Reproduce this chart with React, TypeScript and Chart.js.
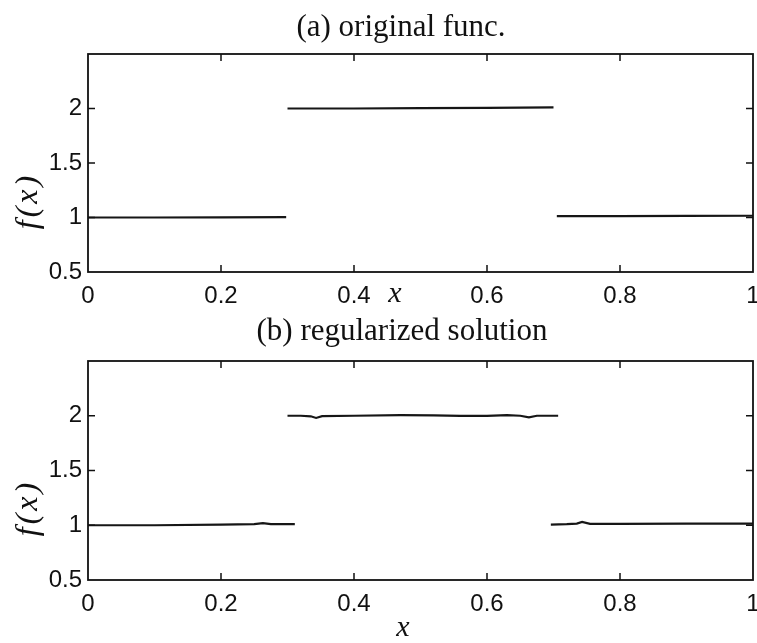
import React, { useEffect, useRef } from 'react';
import { Chart, registerables } from 'chart.js';

Chart.register(...registerables);

// ---- Data ----
const xTickValues = [0, 0.2, 0.4, 0.6, 0.8, 1];
const yTickValues = [0.5, 1, 1.5, 2];
const xMin = 0;
const xMax = 1;
const yMin = 0.5;
const yMax = 2.5;

// (a) original function: three pieces
const origSeg1X = [0, 0.1, 0.2, 0.298];
const origSeg1Y = [1.0, 1.0, 1.002, 1.004];
const origSeg2X = [0.3, 0.4, 0.5, 0.6, 0.7];
const origSeg2Y = [2.0, 2.0, 2.003, 2.005, 2.01];
const origSeg3X = [0.705, 0.8, 0.9, 1.0];
const origSeg3Y = [1.012, 1.013, 1.015, 1.016];

// (b) regularized solution: three pieces
const regSeg1X = [0, 0.1, 0.2, 0.25, 0.263, 0.275, 0.311];
const regSeg1Y = [1.0, 1.0, 1.005, 1.01, 1.02, 1.01, 1.01];
const regSeg2X = [0.3, 0.32, 0.335, 0.343, 0.352, 0.4, 0.47, 0.52, 0.56, 0.6, 0.63, 0.65, 0.663, 0.675, 0.707];
const regSeg2Y = [2.0, 2.0, 1.995, 1.98, 1.997, 2.0, 2.005, 2.003, 1.998, 1.998, 2.005, 2.0, 1.985, 2.0, 2.0];
const regSeg3X = [0.696, 0.72, 0.735, 0.743, 0.755, 0.8, 0.9, 1.0];
const regSeg3Y = [1.006, 1.01, 1.015, 1.03, 1.012, 1.012, 1.015, 1.015];

const titleA = '(a) original func.';
const titleB = '(b) regularized solution';
const yLabel = 'f(x)';
const xLabel = 'x';

const LINE_COLOR = '#161616';
const TICK_FONT = { family: '"Liberation Sans", Arial, sans-serif', size: 24 };

const toPoints = (xs: number[], ys: number[]) => xs.map((x, i) => ({ x, y: ys[i] }));

const framePlugin = {
  id: 'frameTicks',
  afterDraw(chart: any) {
    const { ctx, chartArea, scales } = chart;
    const { left, right, top, bottom } = chartArea;
    ctx.save();
    ctx.strokeStyle = '#111';
    ctx.lineWidth = 1.8;
    ctx.strokeRect(left, top, right - left, bottom - top);
    ctx.lineWidth = 1.5;
    const len = 7;
    scales.x.ticks.forEach((t: any) => {
      const px = scales.x.getPixelForValue(t.value);
      if (t.value <= xMin || t.value >= xMax) return;
      ctx.beginPath();
      ctx.moveTo(px, bottom);
      ctx.lineTo(px, bottom - len);
      ctx.moveTo(px, top);
      ctx.lineTo(px, top + len);
      ctx.stroke();
    });
    scales.y.ticks.forEach((t: any) => {
      const py = scales.y.getPixelForValue(t.value);
      if (t.value <= yMin || t.value >= yMax) return;
      ctx.beginPath();
      ctx.moveTo(left, py);
      ctx.lineTo(left + len, py);
      ctx.moveTo(right, py);
      ctx.lineTo(right - len, py);
      ctx.stroke();
    });
    ctx.restore();
  },
};

const textPlugin = {
  id: 'freeText',
  afterDraw(chart: any, _args: any, opts: any) {
    const { ctx } = chart;
    (opts.items || []).forEach((it: any) => {
      ctx.save();
      ctx.fillStyle = '#111';
      ctx.font = it.font;
      ctx.textAlign = 'center';
      ctx.textBaseline = 'middle';
      if (it.spacing) (ctx as any).letterSpacing = it.spacing;
      ctx.translate(it.x, it.y);
      if (it.rotate) ctx.rotate(it.rotate);
      ctx.fillText(it.text, 0, 0);
      ctx.restore();
    });
  },
};

type Seg = { xs: number[]; ys: number[] };

function makeConfig(segs: Seg[], padTop: number, xAxisHeight: number, texts: any[]) {
  return {
    type: 'line' as const,
    data: {
      datasets: segs.map((s) => ({
        data: toPoints(s.xs, s.ys),
        borderColor: LINE_COLOR,
        borderWidth: 2.2,
        pointRadius: 0,
        tension: 0,
        fill: false,
      })),
    },
    options: {
      animation: false,
      responsive: false,
      devicePixelRatio: 1,
      layout: { padding: { left: 0, right: 4, top: padTop, bottom: 0 } },
      plugins: {
        legend: { display: false },
        tooltip: { enabled: false },
        title: { display: false },
        freeText: { items: texts },
      },
      scales: {
        x: {
          type: 'linear',
          min: xMin,
          max: xMax,
          afterBuildTicks: (s: any) => {
            s.ticks = xTickValues.map((v) => ({ value: v }));
          },
          afterFit: (s: any) => {
            s.height = xAxisHeight;
            s.paddingLeft = 0;
            s.paddingRight = 0;
          },
          grid: { display: false, drawTicks: false },
          border: { display: false },
          ticks: {
            autoSkip: false,
            maxRotation: 0,
            padding: 10,
            color: '#111',
            font: TICK_FONT,
            callback: (v: number) => String(Math.round(v * 10) / 10),
          },
        },
        y: {
          type: 'linear',
          min: yMin,
          max: yMax,
          afterBuildTicks: (s: any) => {
            s.ticks = yTickValues.map((v) => ({ value: v }));
          },
          afterFit: (s: any) => {
            s.width = 88;
            s.paddingTop = 0;
            s.paddingBottom = 0;
          },
          grid: { display: false, drawTicks: false },
          border: { display: false },
          ticks: {
            autoSkip: false,
            padding: 6,
            color: '#111',
            font: TICK_FONT,
            callback: (v: number) => String(v),
          },
        },
      },
    },
    plugins: [framePlugin, textPlugin],
  };
}

const SERIF = '"Liberation Serif", "Times New Roman", serif';

function Panel({ top, height, segs, padTop, xAxisHeight, texts }: any) {
  const ref = useRef<HTMLCanvasElement | null>(null);
  useEffect(() => {
    if (!ref.current) return;
    const chart = new Chart(ref.current, makeConfig(segs, padTop, xAxisHeight, texts) as any);
    return () => chart.destroy();
  }, []);
  return (
    <canvas
      ref={ref}
      width={757}
      height={height}
      style={{ position: 'absolute', left: 0, top, width: 757, height }}
    />
  );
}

export default function App() {
  const topTexts = [
    { text: titleA, x: 401, y: 28, font: `31px ${SERIF}` },
    { text: yLabel, x: 29, y: 201, font: `italic 32px ${SERIF}`, rotate: -Math.PI / 2, spacing: '3px' },
    { text: xLabel, x: 395, y: 294, font: `italic 30px ${SERIF}` },
  ];
  const bottomTexts = [
    { text: titleB, x: 402, y: 22, font: `31px ${SERIF}` },
    { text: yLabel, x: 29, y: 198, font: `italic 32px ${SERIF}`, rotate: -Math.PI / 2, spacing: '3px' },
    { text: xLabel, x: 403, y: 318, font: `italic 30px ${SERIF}` },
  ];
  return (
    <div style={{ position: 'absolute', left: 0, top: 0, width: 757, height: 643, background: '#fff' }}>
      <Panel
        top={0}
        height={310}
        padTop={54}
        xAxisHeight={38}
        segs={[
          { xs: origSeg1X, ys: origSeg1Y },
          { xs: origSeg2X, ys: origSeg2Y },
          { xs: origSeg3X, ys: origSeg3Y },
        ]}
        texts={topTexts}
      />
      <Panel
        top={310}
        height={333}
        padTop={51}
        xAxisHeight={63}
        segs={[
          { xs: regSeg1X, ys: regSeg1Y },
          { xs: regSeg2X, ys: regSeg2Y },
          { xs: regSeg3X, ys: regSeg3Y },
        ]}
        texts={bottomTexts}
      />
    </div>
  );
}
